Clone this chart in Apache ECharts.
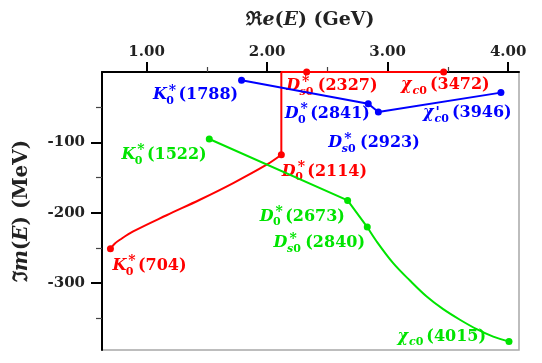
<!DOCTYPE html>
<html>
<head>
<meta charset="utf-8">
<script src="https://cdn.jsdelivr.net/npm/echarts@6.0.0/dist/echarts.min.js"></script>
<style>
  html, body { margin: 0; padding: 0; background: #fff; }
  #main { width: 542px; height: 363px; }
</style>
</head>
<body>
<div id="main"></div>
<script>
// axis ticks
var reTicks = [1, 2, 3, 4];
var reMinor = [1.5, 2.5, 3.5];
var imTicks = [-300, -200, -100];
var imMinor = [-350, -250, -150, -50];

// pole trajectories (Re in GeV, Im in MeV), '' = no marker
// name format: main|sup|sub|tail
// red: curved branch, then straight path up to and along the real axis
var redCurveRe = [0.700, 0.735, 0.778, 0.889, 1.166, 1.442, 1.719, 1.996, 2.118];
var redCurveIm = [-251, -244, -238.4, -226.5, -203.5, -181.5, -157.8, -131.7, -117.5];
var redCurvePoles = ['K|*|0|(704)', '', '', '', '', '', '', '', 'D|*|0|(2114)'];
var redAxisRe = [2.118, 2.118, 2.328, 3.465];
var redAxisIm = [-117.5, 0, 0, 0];
var redAxisPoles = ['', '', 'D|*|s0|(2327)', 'χ||c0|(3472)'];

// green: straight part, then curved tail
var greenLineRe = [1.520, 2.668, 2.831];
var greenLineIm = [-95.2, -182.5, -220.3];
var greenLinePoles = ['K|*|0|(1522)', 'D|*|0|(2673)', 'D|*|s0|(2840)'];
var greenCurveRe = [2.831, 2.909, 3.046, 3.185, 3.324, 3.461, 3.600, 3.739, 3.876, 4.007];
var greenCurveIm = [-220.3, -240.8, -271.6, -296.3, -319, -337, -352, -365.4, -376, -383];
var greenCurvePoles = ['', '', '', '', '', '', '', '', '', 'χ||c0|(4015)'];

var blueRe = [1.788, 2.839, 2.923, 3.940];
var blueIm = [-11.8, -45, -56.8, -29.3];
var bluePoles = ['K|*|0|(1788)', 'D|*|0|(2841)', 'D|*|s0|(2923)', "χ|'|c0|(3946)"];

// label placement relative to its marker: dx, dy, anchored side
var labelPos = {
  '(704)': [2, 17, 'l'],
  '(2114)': [0.5, 16.7, 'l'],
  '(2327)': [-20.5, 14, 'l'],
  '(3472)': [-42.6, 13, 'l'],
  '(1522)': [-2.6, 15.7, 'r'],
  '(2673)': [-2.7, 16, 'r'],
  '(2840)': [-2.3, 16, 'r'],
  '(4015)': [-23, -5, 'r'],
  '(1788)': [-3.4, 15, 'r'],
  '(2841)': [1.7, 10, 'r'],
  '(2923)': [-50, 31, 'l'],
  '(3946)': [10.7, 20.5, 'r']
};

var RED = '#ff0000', GREEN = '#00e400', BLUE = '#0000ff';
var SERIF = '"DejaVu Serif", serif';

var lines = [
  {re: redCurveRe, im: redCurveIm, poles: redCurvePoles, color: RED, smooth: 0.35},
  {re: redAxisRe, im: redAxisIm, poles: redAxisPoles, color: RED, smooth: false},
  {re: greenLineRe, im: greenLineIm, poles: greenLinePoles, color: GREEN, smooth: false},
  {re: greenCurveRe, im: greenCurveIm, poles: greenCurvePoles, color: GREEN, smooth: 0.35},
  {re: blueRe, im: blueIm, poles: bluePoles, color: BLUE, smooth: false}
];

var chart = echarts.init(document.getElementById('main'));

var tickLabelStyle = {fontFamily: SERIF, fontWeight: 'bold', fontSize: 15, color: '#222'};

function axisNameStyle(size) {
  var base = {fontFamily: SERIF, fontSize: size, fontWeight: 'bold', color: '#222'};
  return Object.assign({
    rich: {
      f: Object.assign({}, base),
      i: Object.assign({fontStyle: 'italic'}, base),
      n: Object.assign({}, base)
    }
  }, base);
}

var option = {
  animation: false,
  grid: {left: 102, top: 72, right: 23, bottom: 13, show: true, borderColor: '#a8a8a8', borderWidth: 1.5},
  xAxis: [
    {
      type: 'value', position: 'top', min: 0.63, max: 4.09,
      name: '{f|ℜ}{i|e}{n|(}{i|E}{n|) (GeV)}', nameLocation: 'middle', nameGap: 42,
      nameTextStyle: axisNameStyle(19),
      axisLine: {show: true, onZero: false, lineStyle: {color: '#000', width: 2}},
      axisTick: {show: true, length: 10, customValues: reTicks, lineStyle: {color: '#000', width: 2}},
      axisLabel: Object.assign({customValues: reTicks, margin: 12, formatter: function (v) { return v.toFixed(2); }}, tickLabelStyle),
      splitLine: {show: false}
    },
    {
      type: 'value', position: 'top', min: 0.63, max: 4.09,
      axisLine: {show: false, onZero: false},
      axisTick: {show: true, length: 5, customValues: reMinor, lineStyle: {color: '#444', width: 1.2}},
      axisLabel: {show: false},
      splitLine: {show: false}
    }
  ],
  yAxis: [
    {
      type: 'value', min: -395, max: 0,
      name: '{f|ℑ}{i|m}{n|(}{i|E}{n|) (MeV)}', nameLocation: 'middle', nameGap: 70, nameRotate: 90,
      nameTextStyle: axisNameStyle(20),
      axisLine: {show: true, onZero: false, lineStyle: {color: '#000', width: 2}},
      axisTick: {show: true, length: 11, customValues: imTicks, lineStyle: {color: '#000', width: 2}},
      axisLabel: Object.assign({customValues: imTicks, margin: 17, formatter: function (v) { return v.toFixed(0); }}, tickLabelStyle),
      splitLine: {show: false}
    },
    {
      type: 'value', min: -395, max: 0, position: 'left',
      axisLine: {show: false, onZero: false},
      axisTick: {show: true, length: 6, customValues: imMinor, lineStyle: {color: '#444', width: 1.2}},
      axisLabel: {show: false},
      splitLine: {show: false}
    }
  ],
  series: lines.map(function (s) {
    return {
      type: 'line',
      data: s.re.map(function (x, i) { return [x, s.im[i]]; }),
      smooth: s.smooth,
      symbol: 'circle',
      symbolSize: function (v, p) { return s.poles[p.dataIndex] ? 7 : 0; },
      showAllSymbol: true,
      clip: false,
      lineStyle: {color: s.color, width: 2},
      itemStyle: {color: s.color},
      emphasis: {disabled: true}
    };
  })
};
chart.setOption(option);

// pole labels built from pieces: italic main letter, stacked sup/sub, upright tail
var ctx = document.createElement('canvas').getContext('2d');
function tw(t, font) { ctx.font = font; return ctx.measureText(t).width; }

var fMainI = 'italic bold 16px ' + SERIF;
var fMain = 'bold 16px ' + SERIF;
var fSmallI = 'italic bold 11px ' + SERIF;
var fSmall = 'bold 11px ' + SERIF;
var fSup = 'bold 14px ' + SERIF;

var graphics = [];
lines.forEach(function (s) {
  s.re.forEach(function (x, i) {
    var nm = s.poles[i];
    if (!nm) return;
    var parts = nm.split('|');
    var main = parts[0], sup = parts[1], sub = parts[2], tail = parts[3];
    var pos = labelPos[tail];
    var px = chart.convertToPixel({gridIndex: 0}, [x, s.im[i]]);
    var subL = sub.replace(/\d/g, ''), subD = sub.replace(/\D/g, '');
    var mainW = tw(main, fMainI);
    var sx = mainW + 1;
    var subW = tw(subL, fSmallI) + tw(subD, fSmall);
    var supW = sup ? tw(sup, fSup) : 0;
    var tx = sx + Math.max(subW, supW) + 3;
    var W = tx + tw(tail, fMain);
    var left = pos[2] === 'l' ? px[0] + pos[0] : px[0] + pos[0] - W;
    var cy = px[1] + pos[1];
    function txt(t, x0, y0, font) {
      return {type: 'text', x: x0, y: y0, style: {text: t, font: font, fill: s.color, verticalAlign: 'middle', textVerticalAlign: 'middle'}};
    }
    var kids = [txt(main, 0, 0, fMainI)];
    if (sup) kids.push(txt(sup, sx + 1, sup === '*' ? -4 : 0, fSup));
    var subX = sx - (main === 'χ' ? 0 : 1.5);
    if (subL) kids.push(txt(subL, subX, 6, fSmallI));
    kids.push(txt(subD, subX + tw(subL, fSmallI), 6, fSmall));
    kids.push(txt(tail, tx, 0, fMain));
    graphics.push({type: 'group', x: left, y: cy, silent: true, z: 100, children: kids});
  });
});
chart.setOption({graphic: graphics});
</script>
</body>
</html>
